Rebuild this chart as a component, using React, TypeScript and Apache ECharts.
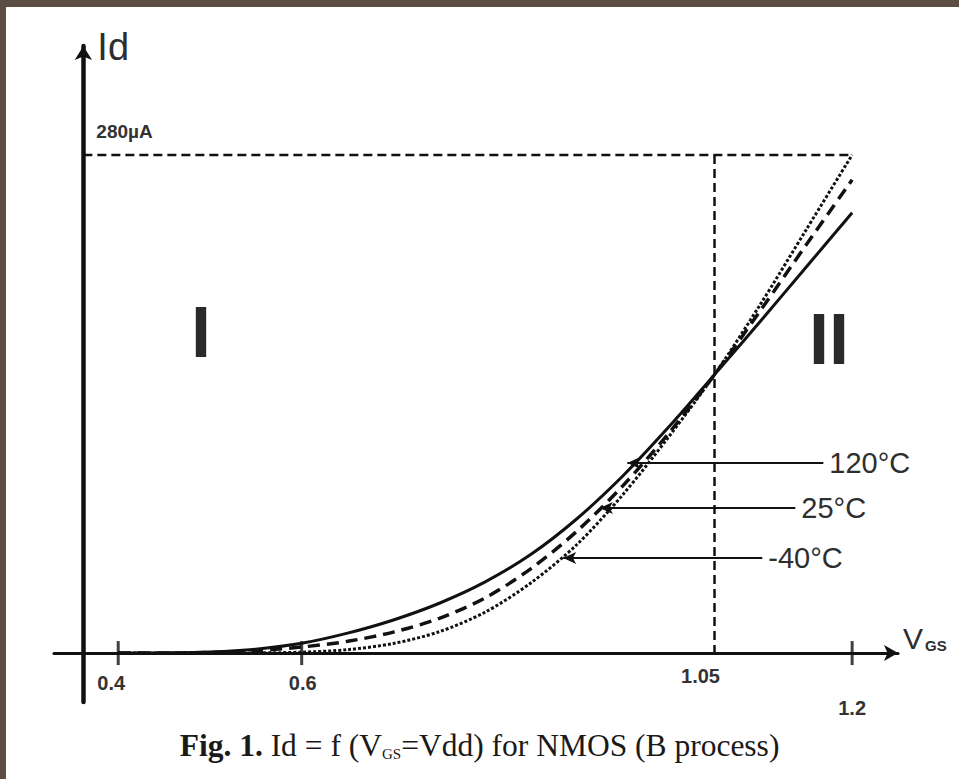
import React, { useEffect, useRef } from "react";
import * as echarts from "echarts";

// V_GS sample points (V) and drain current (µA) for each temperature
const vgs = [0.4, 0.45, 0.5, 0.55, 0.6, 0.65, 0.7, 0.75, 0.8, 0.85, 0.9, 0.95, 1.0, 1.05, 1.1, 1.15, 1.2];
const id120C = [0, 0.1, 0.6, 2.2, 5.5, 11.2, 18.6, 28, 40, 55.5, 75.5, 99.5, 127, 156.5, 186.5, 217, 247.5];
const id25C = [0, 0, 0.3, 1.3, 3.4, 6.6, 11.8, 19.5, 31, 47.5, 68.5, 94, 123.5, 156.5, 192.5, 229.5, 266];
const idM40C = [0, 0, 0, 0.1, 0.5, 1.9, 5.4, 12, 23, 39.5, 61, 89, 121.5, 156.5, 196, 238, 280];

const seriesNames = ["120°C", "25°C", "-40°C"];
const xTickLabels = [0.4, 0.6, 1.05, 1.2];
const xTickMarks = [0.4, 0.6, 1.2];
const idMax = 280; // µA
const vddPoint = 1.05;
const vEnd = 1.2;
const idAxisAtV = 0.362; // where the Id axis crosses the V_GS axis

const X_MIN = 0.33;
const X_MAX = 1.25;
const Y_MIN = -27.5;
const Y_MAX = 341.2;
const GRID_LEFT = 54;
const GRID_TOP = 46;
const GRID_WIDTH = 844;
const GRID_HEIGHT = 656;
const PX_PER_V = GRID_WIDTH / (X_MAX - X_MIN);
const PX_PER_ID = GRID_HEIGHT / (Y_MAX - Y_MIN);

const INK = "#111";
const TXT = "#2e2e2e";
const SANS = "'Liberation Sans', Arial, sans-serif";
const SERIF = "'Liberation Serif', 'Times New Roman', serif";

const toPairs = (ys: number[]) => vgs.map((v, i) => [v, ys[i]]);

export default function App() {
  const ref = useRef<HTMLDivElement>(null);
  useEffect(() => {
    if (!ref.current) return;
    const chart = echarts.init(ref.current, null, { renderer: "svg" });

    const leader = (name: string, tipV: number, endV: number, idLevel: number) => ({
      silent: true,
      symbol: ["arrow", "none"],
      symbolSize: [9, 13],
      lineStyle: { type: "solid", width: 2, color: INK },
      label: {
        show: true,
        position: "end",
        distance: 6,
        formatter: () => name,
        fontFamily: SANS,
        fontSize: 29,
        color: TXT,
      },
      data: [[{ coord: [tipV, idLevel] }, { coord: [endV, idLevel] }]],
    });

    const labelKey = (v: number) =>
      v === 0.4 ? "a" : v === 0.6 ? "b" : v === 1.05 ? "c" : "d";
    const tickFont = { fontFamily: SANS, fontSize: 20, fontWeight: "bold", color: "#333" };
    const curve = {
      type: "line",
      symbol: "none",
      smooth: 0.3,
    };

    chart.setOption({
      animation: false,
      backgroundColor: "#ffffff",
      title: {
        left: "center",
        top: 724,
        text: "{b|Fig. 1.}{r| Id = f (V}{s|GS}{r|=Vdd) for NMOS (B process)}",
        textStyle: {
          rich: {
            b: { fontFamily: SERIF, fontSize: 31.5, fontWeight: "bold", color: "#1a1a1a" },
            r: { fontFamily: SERIF, fontSize: 31.5, fontWeight: "normal", color: "#1a1a1a" },
            s: { fontFamily: SERIF, fontSize: 15, fontWeight: "normal", color: "#1a1a1a", padding: [17, 0, 0, 0] },
          },
        },
      },
      grid: { left: GRID_LEFT, top: GRID_TOP, width: GRID_WIDTH, height: GRID_HEIGHT },
      xAxis: {
        type: "value",
        min: X_MIN,
        max: X_MAX,
        position: "bottom",
        offset: -(0 - Y_MIN) * PX_PER_ID,
        axisLine: {
          onZero: false,
          symbol: ["none", "arrow"],
          symbolSize: [12, 14],
          lineStyle: { color: INK, width: 3 },
        },
        axisTick: { show: false },
        splitLine: { show: false },
        axisLabel: {
          customValues: xTickLabels,
          margin: 13,
          formatter: (v: number) => `{${labelKey(v)}|${v}}`,
          rich: {
            a: { ...tickFont, padding: [7, 14, 0, 0] },
            b: { ...tickFont, padding: [7, 0, 0, 2] },
            c: { ...tickFont, padding: [0, 28, 0, 0] },
            d: { ...tickFont, padding: [32, 0, 0, 0] },
          },
        },
        name: "{v|V}{s|GS}",
        nameLocation: "end",
        nameGap: 5,
        nameTextStyle: {
          verticalAlign: "bottom",
          rich: {
            v: { fontFamily: SANS, fontSize: 30, color: TXT },
            s: { fontFamily: SANS, fontSize: 15, fontWeight: "bold", color: TXT, padding: [14, 0, 0, 2] },
          },
        },
      },
      yAxis: {
        type: "value",
        min: Y_MIN,
        max: Y_MAX,
        position: "left",
        offset: -(idAxisAtV - X_MIN) * PX_PER_V,
        axisLine: {
          show: true,
          onZero: false,
          symbol: ["none", "arrow"],
          symbolSize: [13, 14],
          lineStyle: { color: INK, width: 4.5 },
        },
        axisTick: { show: false },
        splitLine: { show: false },
        axisLabel: {
          customValues: [idMax],
          inside: true,
          margin: 13,
          verticalAlign: "bottom",
          padding: [0, 0, 14, 0],
          formatter: (v: number) => `${v}µA`,
          ...tickFont,
          fontSize: 19,
        },
        name: "Id",
        nameLocation: "end",
        nameGap: -20,
        nameTextStyle: {
          align: "left",
          verticalAlign: "bottom",
          padding: [0, 0, 0, 14],
          fontFamily: SANS,
          fontSize: 38,
          color: TXT,
        },
      },
      graphic: [
        { type: "rect", shape: { x: 0, y: 0, width: 959, height: 7 }, style: { fill: "#5d4e45" }, z: 100 },
        { type: "rect", shape: { x: 0, y: 0, width: 6, height: 779 }, style: { fill: "#5d4e45" }, z: 100 },
        {
          type: "text",
          x: 201,
          y: 332,
          style: { text: "I", fontFamily: SANS, fontSize: 72, fontWeight: "bold", fill: "#2a2a2a", align: "center", verticalAlign: "middle" },
        },
        {
          type: "text",
          x: 829,
          y: 339,
          style: { text: "II", fontFamily: SANS, fontSize: 72, fontWeight: "bold", fill: "#2a2a2a", align: "center", verticalAlign: "middle" },
        },
      ],
      series: [
        {
          name: "guide-h",
          type: "line",
          silent: true,
          symbol: "none",
          data: [[idAxisAtV, idMax], [vEnd, idMax]],
          lineStyle: { color: INK, width: 2.5, type: [9, 5] },
        },
        {
          name: "guide-v",
          type: "line",
          silent: true,
          symbol: "none",
          data: [[vddPoint, idMax], [vddPoint, 0]],
          lineStyle: { color: INK, width: 2.5, type: [9, 5] },
        },
        {
          name: "ticks",
          type: "scatter",
          silent: true,
          symbol: "rect",
          symbolSize: [3, 24],
          data: xTickMarks.map((v) => [v, 0]),
          itemStyle: { color: INK },
        },
        {
          ...curve,
          name: seriesNames[0],
          data: toPairs(id120C),
          lineStyle: { color: INK, width: 3 },
          markLine: leader(seriesNames[0], 0.955, 1.1686, 106.8),
        },
        {
          ...curve,
          name: seriesNames[1],
          data: toPairs(id25C),
          lineStyle: { color: INK, width: 3.5, type: [12, 7] },
          markLine: leader(seriesNames[1], 0.925, 1.1381, 81.5),
        },
        {
          ...curve,
          name: seriesNames[2],
          data: toPairs(idM40C),
          lineStyle: { color: INK, width: 3, type: [3, 2] },
          markLine: leader(seriesNames[2], 0.885, 1.1021, 53.4),
        },
      ],
    });
    return () => chart.dispose();
  }, []);
  return (
    <div
      ref={ref}
      style={{ position: "absolute", left: 0, top: 0, width: 959, height: 779, background: "#fff" }}
    />
  );
}
